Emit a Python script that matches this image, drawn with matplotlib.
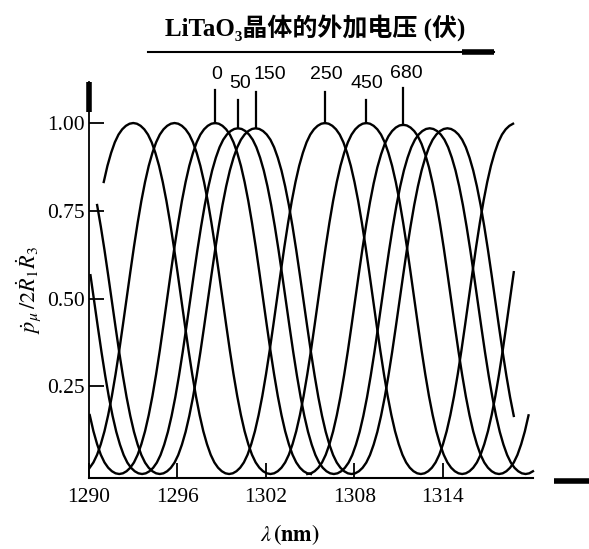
import numpy as np
import matplotlib.pyplot as plt
from matplotlib.lines import Line2D

plt.rcParams['font.family'] = ['Liberation Serif', 'Noto Sans CJK SC', 'DejaVu Serif']
plt.rcParams['mathtext.fontset'] = 'stix'

# applied voltage on the LiTaO3 crystal and the fringe peak it marks (nm)
voltages = ['0', '50', '150', '250', '450', '680']
peak_nm = [1298.55, 1300.1, 1301.3, 1306.0, 1308.8, 1311.3]
peak_height = [1.0, 0.985, 0.985, 1.0, 1.0, 0.995]
# wavelength span over which each curve is drawn (nm)
span_start = [1290.0, 1290.0, 1290.4, 1291.0, 1290.0, 1304.8]
span_end = [1305.1, 1320.1, 1318.9, 1318.9, 1318.9, 1319.9]
fsr = 13.0  # fringe spacing, nm

# half of one fringe: distance from the peak (nm) and normalised level
half_offset = [0.0, 0.25, 0.5, 0.75, 1.0, 1.25, 1.5, 1.75, 2.0, 2.25, 2.5,
               2.75, 3.0, 3.25, 3.5, 3.75, 4.0, 4.25, 4.5, 4.75, 5.0, 5.25,
               5.5, 5.75, 6.0, 6.25, 6.5]
half_level = [1.0, 0.998, 0.992, 0.982, 0.967, 0.945, 0.915, 0.878, 0.832,
              0.778, 0.716, 0.648, 0.575, 0.5, 0.425, 0.352, 0.284, 0.222,
              0.168, 0.122, 0.085, 0.055, 0.033, 0.018, 0.008, 0.002, 0.0]

# label placement above the peaks
tick_top = [1.094, 1.066, 1.088, 1.088, 1.066, 1.10]
label_dx = [0.1, 0.15, 0.95, 0.1, 0.05, 0.2]
label_y = [1.137, 1.114, 1.137, 1.137, 1.114, 1.142]

off = np.array(half_offset)
lev = np.array(half_level)
fringe_x = np.concatenate([-off[::-1], off[1:-1]])
fringe_y = np.concatenate([lev[::-1], lev[1:-1]])

ybot = -0.0114

fig = plt.figure(figsize=(5.89, 5.49), dpi=100)
ax = fig.add_axes([0.1511, 0.1293, 0.8489, 0.7213])

for i in range(len(voltages)):
    xs, ys = [], []
    for k in range(-2, 3):
        xs.append(peak_nm[i] + k * fsr + fringe_x)
        ys.append(peak_height[i] * fringe_y)
    xs = np.concatenate(xs)
    ys = np.concatenate(ys)
    keep = (xs >= span_start[i] - 1e-9) & (xs <= span_end[i] + 1e-9)
    ax.plot(xs[keep], ys[keep], color='black', lw=1.7)

    ax.plot([peak_nm[i], peak_nm[i]], [peak_height[i], tick_top[i]],
            color='black', lw=1.6, clip_on=False)
    ax.text(peak_nm[i] + label_dx[i], label_y[i], voltages[i],
            family='Liberation Sans', fontsize=14, ha='center', va='center')

ax.set_xlim(1290, 1323.9)
ax.set_ylim(ybot, 1.1168)
for side in ['top', 'right', 'bottom']:
    ax.spines[side].set_visible(False)
ax.spines['left'].set_linewidth(1.3)

# wavelength axis line with its arrow end
ax.plot([1290, 1320.1], [ybot, ybot], color='black', lw=1.5, clip_on=False)
ax.plot([1321.5, 1323.9], [ybot - 0.008, ybot - 0.008], color='black', lw=4,
        clip_on=False, solid_capstyle='butt')
ax.plot([1290, 1290], [1.03, 1.1168], color='black', lw=4, clip_on=False,
        solid_capstyle='butt')

ax.set_xticks([1290, 1296, 1302, 1308, 1314])
ax.set_xticklabels(['1290', '1296', '1302', '1308', '1314'])
ax.set_yticks([0.25, 0.5, 0.75, 1.0])
ax.set_yticklabels(['0.25', '0.50', '0.75', '1.00'])
ax.tick_params(axis='x', direction='in', length=11, width=1.3, pad=7, labelsize=15.5)
ax.tick_params(axis='y', direction='in', length=11, width=1.3, pad=3, labelsize=15.5)

fig.text(0.492, 0.026, r'$\lambda\,\mathbf{(nm)}$', ha='center', va='center', fontsize=16)
fig.text(0.05, 0.472, r'$\dot{p}_{\mu}\,/2\dot{R}_1\dot{R}_3$', rotation=90,
         ha='center', va='center', fontsize=16)

fig.text(0.535, 0.949, 'LiTaO₃晶体的外加电压 (伏)', ha='center', va='center',
         fontsize=18, fontweight='bold')
fig.add_artist(Line2D([148 / 589, 494 / 589], [0.905, 0.905], color='black', lw=1.5))
fig.add_artist(Line2D([462 / 589, 494 / 589], [0.905, 0.905], color='black', lw=4,
                      solid_capstyle='butt'))

fig.savefig('out.png', dpi=100)
